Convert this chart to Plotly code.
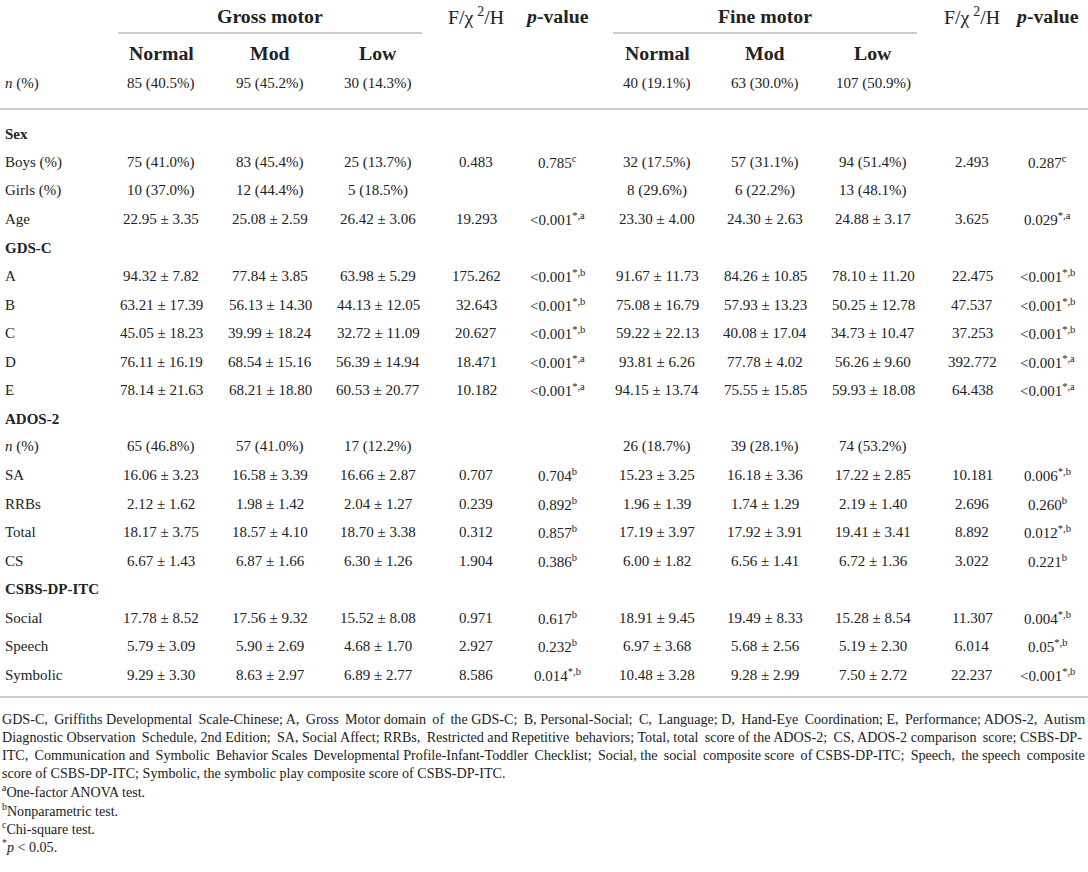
import plotly.graph_objects as go

# --- table contents ---
groups = ["Normal", "Mod", "Low"]
n_gross = ["85 (40.5%)", "95 (45.2%)", "30 (14.3%)"]
n_fine = ["40 (19.1%)", "63 (30.0%)", "107 (50.9%)"]

row_labels = ["Sex", "Boys (%)", "Girls (%)", "Age", "GDS-C", "A", "B", "C", "D", "E",
              "ADOS-2", "<i>n</i> (%)", "SA", "RRBs", "Total", "CS",
              "CSBS-DP-ITC", "Social", "Speech", "Symbolic"]
section_rows = ["Sex", "GDS-C", "ADOS-2", "CSBS-DP-ITC"]

gross_normal = ["", "75 (41.0%)", "10 (37.0%)", "22.95 ± 3.35", "", "94.32 ± 7.82", "63.21 ± 17.39",
                "45.05 ± 18.23", "76.11 ± 16.19", "78.14 ± 21.63", "", "65 (46.8%)", "16.06 ± 3.23",
                "2.12 ± 1.62", "18.17 ± 3.75", "6.67 ± 1.43", "", "17.78 ± 8.52", "5.79 ± 3.09", "9.29 ± 3.30"]
gross_mod = ["", "83 (45.4%)", "12 (44.4%)", "25.08 ± 2.59", "", "77.84 ± 3.85", "56.13 ± 14.30",
             "39.99 ± 18.24", "68.54 ± 15.16", "68.21 ± 18.80", "", "57 (41.0%)", "16.58 ± 3.39",
             "1.98 ± 1.42", "18.57 ± 4.10", "6.87 ± 1.66", "", "17.56 ± 9.32", "5.90 ± 2.69", "8.63 ± 2.97"]
gross_low = ["", "25 (13.7%)", "5 (18.5%)", "26.42 ± 3.06", "", "63.98 ± 5.29", "44.13 ± 12.05",
             "32.72 ± 11.09", "56.39 ± 14.94", "60.53 ± 20.77", "", "17 (12.2%)", "16.66 ± 2.87",
             "2.04 ± 1.27", "18.70 ± 3.38", "6.30 ± 1.26", "", "15.52 ± 8.08", "4.68 ± 1.70", "6.89 ± 2.77"]
gross_stat = ["", "0.483", "", "19.293", "", "175.262", "32.643", "20.627", "18.471", "10.182",
              "", "", "0.707", "0.239", "0.312", "1.904", "", "0.971", "2.927", "8.586"]
gross_p = ["", "0.785<sup>c</sup>", "", "<0.001<sup>*,a</sup>", "", "<0.001<sup>*,b</sup>",
           "<0.001<sup>*,b</sup>", "<0.001<sup>*,b</sup>", "<0.001<sup>*,a</sup>", "<0.001<sup>*,a</sup>",
           "", "", "0.704<sup>b</sup>", "0.892<sup>b</sup>", "0.857<sup>b</sup>", "0.386<sup>b</sup>",
           "", "0.617<sup>b</sup>", "0.232<sup>b</sup>", "0.014<sup>*,b</sup>"]

fine_normal = ["", "32 (17.5%)", "8 (29.6%)", "23.30 ± 4.00", "", "91.67 ± 11.73", "75.08 ± 16.79",
               "59.22 ± 22.13", "93.81 ± 6.26", "94.15 ± 13.74", "", "26 (18.7%)", "15.23 ± 3.25",
               "1.96 ± 1.39", "17.19 ± 3.97", "6.00 ± 1.82", "", "18.91 ± 9.45", "6.97 ± 3.68", "10.48 ± 3.28"]
fine_mod = ["", "57 (31.1%)", "6 (22.2%)", "24.30 ± 2.63", "", "84.26 ± 10.85", "57.93 ± 13.23",
            "40.08 ± 17.04", "77.78 ± 4.02", "75.55 ± 15.85", "", "39 (28.1%)", "16.18 ± 3.36",
            "1.74 ± 1.29", "17.92 ± 3.91", "6.56 ± 1.41", "", "19.49 ± 8.33", "5.68 ± 2.56", "9.28 ± 2.99"]
fine_low = ["", "94 (51.4%)", "13 (48.1%)", "24.88 ± 3.17", "", "78.10 ± 11.20", "50.25 ± 12.78",
            "34.73 ± 10.47", "56.26 ± 9.60", "59.93 ± 18.08", "", "74 (53.2%)", "17.22 ± 2.85",
            "2.19 ± 1.40", "19.41 ± 3.41", "6.72 ± 1.36", "", "15.28 ± 8.54", "5.19 ± 2.30", "7.50 ± 2.72"]
fine_stat = ["", "2.493", "", "3.625", "", "22.475", "47.537", "37.253", "392.772", "64.438",
             "", "", "10.181", "2.696", "8.892", "3.022", "", "11.307", "6.014", "22.237"]
fine_p = ["", "0.287<sup>c</sup>", "", "0.029<sup>*,a</sup>", "", "<0.001<sup>*,b</sup>",
          "<0.001<sup>*,b</sup>", "<0.001<sup>*,b</sup>", "<0.001<sup>*,a</sup>", "<0.001<sup>*,a</sup>",
          "", "", "0.006<sup>*,b</sup>", "0.260<sup>b</sup>", "0.012<sup>*,b</sup>", "0.221<sup>b</sup>",
          "", "0.004<sup>*,b</sup>", "0.05<sup>*,b</sup>", "<0.001<sup>*,b</sup>"]

footnotes = [
    "GDS-C, Griffiths Developmental Scale-Chinese; A, Gross Motor domain of the GDS-C; B, Personal-Social; C, Language; D, Hand-Eye Coordination; E, Performance; ADOS-2, Autism",
    "Diagnostic Observation Schedule, 2nd Edition; SA, Social Affect; RRBs, Restricted and Repetitive behaviors; Total, total score of the ADOS-2; CS, ADOS-2 comparison score; CSBS-DP-",
    "ITC, Communication and Symbolic Behavior Scales Developmental Profile-Infant-Toddler Checklist; Social, the social composite score of CSBS-DP-ITC; Speech, the speech composite",
    "score of CSBS-DP-ITC; Symbolic, the symbolic play composite score of CSBS-DP-ITC.",
    "<sup>a</sup>One-factor ANOVA test.",
    "<sup>b</sup>Nonparametric test.",
    "<sup>c</sup>Chi-square test.",
    "<sup>*</sup><i>p</i> < 0.05.",
]
# extra thin spaces to roughly justify the wrapped footnote lines
foot_stretch = [13, 7, 12, 0, 0, 0, 0, 0]

# --- layout settings ---
W, H = 1088, 872
FONT = "Liberation Serif"
INK = "#222222"
RULE = "#cccccc"
BODY = 15
HEAD = 19.8
FOOT = 14.1

gross_x = [161, 270, 378]
fine_x = [657, 765, 873]
stat_x = [476, 972]
p_x = [557, 1047]
row0, pitch = 134, 28.45
foot0, foot_pitch = 719, 18.1

fig = go.Figure()
ann = []


def add(x, y, text, size=BODY, anchor="center", bold=False):
    if bold:
        text = "<b>" + text + "</b>"
    ann.append(dict(x=x, y=y, xref="x", yref="y", text=text, showarrow=False,
                    xanchor=anchor, yanchor="middle",
                    font=dict(family=FONT, size=size, color=INK)))


def stretch(line, extra):
    # spread `extra` thin spaces evenly over the gaps between words
    words = line.split(" ")
    gaps = len(words) - 1
    if extra <= 0 or gaps <= 0:
        return line
    out = words[0]
    given = 0
    for g in range(gaps):
        want = round((g + 1) * extra / gaps)
        out += " " + "\u2009" * (want - given) + words[g + 1]
        given = want
    return out


# headers
add(270, 16, "Gross motor", HEAD, bold=True)
add(765, 16, "Fine motor", HEAD, bold=True)
for sx in stat_x:
    add(sx, 16, "F/χ\u2009<sup>2</sup>/H", HEAD)
for px_ in p_x:
    add(px_, 16, "<i>p</i>-value", HEAD, bold=True)
for i, g in enumerate(groups):
    add(gross_x[i], 53, g, HEAD, bold=True)
    add(fine_x[i], 53, g, HEAD, bold=True)
add(3, 83, "<i>n</i> (%)", BODY, anchor="left")
for i in range(3):
    add(gross_x[i], 83, n_gross[i])
    add(fine_x[i], 83, n_fine[i])

# body rows
cols = [(gross_x[0], gross_normal), (gross_x[1], gross_mod), (gross_x[2], gross_low),
        (stat_x[0], gross_stat), (p_x[0], gross_p),
        (fine_x[0], fine_normal), (fine_x[1], fine_mod), (fine_x[2], fine_low),
        (stat_x[1], fine_stat), (p_x[1], fine_p)]
for r, label in enumerate(row_labels):
    y = row0 + r * pitch
    add(3, y, label, BODY, anchor="left", bold=label in section_rows)
    for cx, vals in cols:
        if vals[r]:
            add(cx, y, vals[r])

# footnotes
for k, line in enumerate(footnotes):
    add(0, foot0 + k * foot_pitch, stretch(line, foot_stretch[k]), FOOT, anchor="left")

# rules
shapes = [
    dict(type="line", xref="x", yref="y", x0=118, x1=422, y0=33, y1=33, line=dict(color=RULE, width=2)),
    dict(type="line", xref="x", yref="y", x0=613, x1=917, y0=33, y1=33, line=dict(color=RULE, width=2)),
    dict(type="line", xref="x", yref="y", x0=0, x1=W, y0=109, y1=109, line=dict(color=RULE, width=2)),
    dict(type="line", xref="x", yref="y", x0=0, x1=W, y0=697, y1=697, line=dict(color=RULE, width=2)),
]

fig.update_layout(
    width=W, height=H,
    margin=dict(l=0, r=0, t=0, b=0),
    paper_bgcolor="white", plot_bgcolor="white",
    xaxis=dict(range=[0, W], visible=False, fixedrange=True),
    yaxis=dict(range=[H, 0], visible=False, fixedrange=True),
    annotations=ann, shapes=shapes, showlegend=False,
)

# drop the browser's default 8px body margin so the figure sits at the page corner
fig.write_html("out.html", config={"displayModeBar": False},
               post_script="document.body.style.margin='0';document.body.style.overflow='hidden';")
